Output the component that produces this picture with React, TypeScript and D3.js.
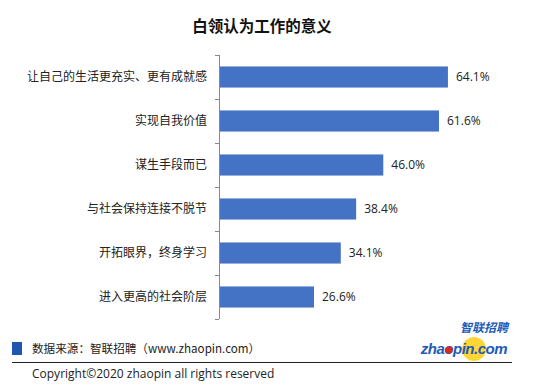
import * as d3 from 'd3';

const categories = [
  '让自己的生活更充实、更有成就感',
  '实现自我价值',
  '谋生手段而已',
  '与社会保持连接不脱节',
  '开拓眼界，终身学习',
  '进入更高的社会阶层',
];
const values = [64.1, 61.6, 46.0, 38.4, 34.1, 26.6];

const title = '白领认为工作的意义';
const source = '数据来源：智联招聘（www.zhaopin.com）';
const copyright = 'Copyright©2020 zhaopin all rights reserved';

const width = 548;
const height = 391;
const axisX = 219;
const axisTop = 55;
const axisBottom = 319;

const cjk = '"Noto Sans CJK SC", "Noto Sans", sans-serif';

function App() {
  const x = d3.scaleLinear([0, 70], [axisX, axisX + 250]);
  const y = d3
    .scaleBand<string>()
    .domain(categories)
    .range([axisTop, axisBottom])
    .paddingInner(0.52)
    .paddingOuter(0.26);

  const tickYs = d3.range(categories.length + 1).map((i) => axisTop + i * y.step());

  return (
    <svg
      width={width}
      height={height}
      style={{ position: 'absolute', left: 0, top: 0, background: '#fff' }}
    >
      <text
        x={262}
        y={32}
        textAnchor="middle"
        fontFamily={cjk}
        fontSize={15.5}
        fontWeight="bold"
        fill="#111"
      >
        {title}
      </text>

      {categories.map((c, i) => (
        <g key={c}>
          <rect
            x={x(0)}
            y={y(c)}
            width={x(values[i]) - x(0)}
            height={y.bandwidth()}
            fill="#4472C4"
          />
          <text
            x={207}
            y={(y(c) ?? 0) + y.bandwidth() / 2}
            dy="0.35em"
            textAnchor="end"
            fontFamily={cjk}
            fontSize={12}
            fill="#222"
          >
            {c}
          </text>
          <text
            x={x(values[i]) + 8}
            y={(y(c) ?? 0) + y.bandwidth() / 2}
            dy="0.35em"
            fontFamily='"Open Sans", "Liberation Sans", sans-serif'
            fontSize={12}
            fill="#222"
          >
            {values[i].toFixed(1)}%
          </text>
        </g>
      ))}

      <g stroke="#888" strokeWidth={1}>
        <line x1={axisX + 0.5} x2={axisX + 0.5} y1={axisTop} y2={axisBottom} />
        {tickYs.map((t, i) => (
          <line key={i} x1={axisX - 4} x2={axisX} y1={Math.round(t) + 0.5} y2={Math.round(t) + 0.5} />
        ))}
      </g>

      <rect x={12} y={342} width={10} height={13} fill="#1F56B0" />
      <text x={32} y={353} fontFamily={cjk} fontSize={11.6} fill="#222">
        {source}
      </text>
      <line x1={12} x2={512} y1={362.5} y2={362.5} stroke="#222" strokeWidth={1} />
      <text
        x={32}
        y={378}
        fontFamily='"Open Sans", "Liberation Sans", sans-serif'
        fontSize={12}
        fill="#222"
      >
        {copyright}
      </text>

      <g>
        <circle cx={474} cy={349} r={12} fill="#FFD21F" opacity={0.9} />
        <text
          x={508}
          y={332}
          textAnchor="end"
          fontFamily={cjk}
          fontSize={12}
          fontWeight="bold"
          fontStyle="italic"
          fill="#1E5BB8"
        >
          智联招聘
        </text>
        <text
          x={507}
          y={354}
          textAnchor="end"
          fontFamily='"Liberation Sans", sans-serif'
          fontSize={15}
          fontWeight="bold"
          fontStyle="italic"
          fill="#1E5BB8"
          letterSpacing={-0.5}
        >
          zhaopin.com
        </text>
        <circle cx={449} cy={350} r={3.5} fill="#E0261B" />
      </g>
    </svg>
  );
}

export default App;
